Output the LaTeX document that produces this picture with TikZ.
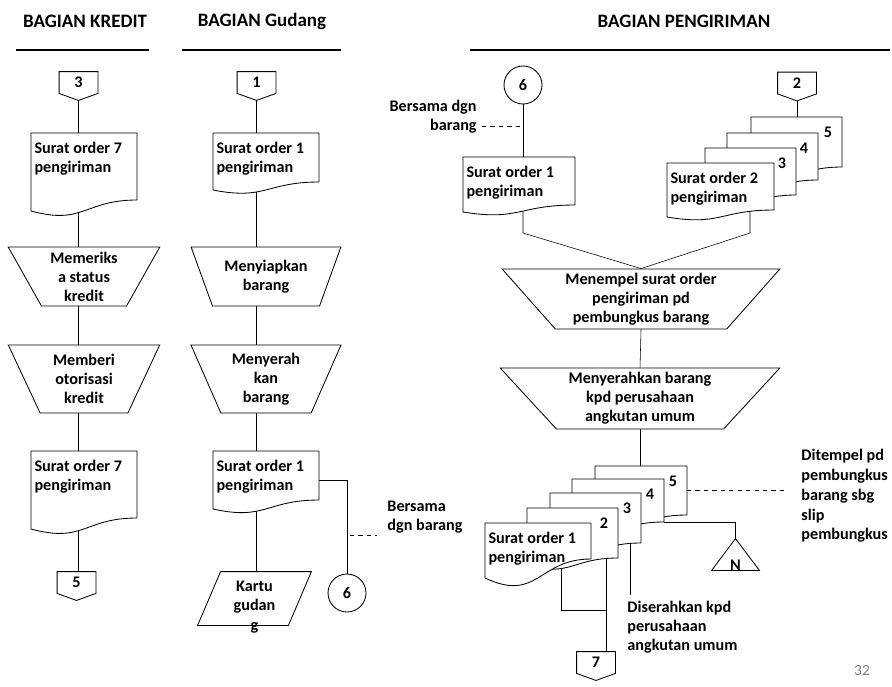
\documentclass[tikz,border=0pt]{standalone}
\usepackage{fontspec}
\setmainfont{Carlito}
\usetikzlibrary{shapes.geometric,calc,backgrounds}

\newlength{\pxu}\setlength{\pxu}{0.025cm}
% text block at the top of a document symbol
\newcommand{\doctxt}[3]{\parbox[t][#2\pxu][t]{#1\pxu}{\vspace*{5pt}\raggedright\leftskip=2.5pt\strut#3}}
% document symbol: name, x, y, width, body height, drop, text
\newcommand{\docu}[7]{%
  \filldraw[fill=white] (#2,#3) -- ++(#4,0) -- ++(0,#5)
    .. controls +(-#4/2,0) and +(#4/2,1.31*#6) .. ++(-#4,#6) -- cycle;
  \node[docbox] (#1) at (#2,#3) {\doctxt{#4}{#5}{#7}};}
% off-page connector
\newcommand{\offp}[3]{%
  \node[offbox] (#1) at (#2) {#3};
  \draw (#1.north west) -- (#1.north east) -- (#1.south east)
    -- ($(#1.south)+(0,7)$) coordinate (#1-tip) -- (#1.south west) -- cycle;}

\tikzset{
  every node/.style={font=\bfseries\fontsize{11.5}{13.5}\selectfont},
  head/.style={font=\bfseries\fontsize{13.5}{16}\selectfont},
  rule/.style={line width=1.3pt},
  offbox/.style={minimum width=38\pxu, minimum height=21\pxu, inner sep=0pt},
  docbox/.style={inner sep=0pt, outer sep=0pt, anchor=north west},
  proc/.style={draw, fill=white, trapezium, shape border rotate=180,
    trapezium stretches=true, align=center, inner sep=0pt},
  kartubox/.style={minimum width=90\pxu, minimum height=53\pxu, inner sep=0pt},
  tribox/.style={minimum width=47\pxu, minimum height=31\pxu, inner sep=0pt},
  conn/.style={draw, fill=white, circle, minimum size=38\pxu, inner sep=0pt},
  note/.style={align=left, inner sep=0pt}
}

\begin{document}
\begin{tikzpicture}[x=0.025cm, y=-0.025cm, line width=0.6pt]
\useasboundingbox (0,0) rectangle (892,686);

% headers
\node[head] (hk) at (85,21) {BAGIAN KREDIT};
\node[head] (hg) at (262,21) {BAGIAN Gudang};
\node[head] (hp) at (684,21) {BAGIAN PENGIRIMAN};
\draw[rule] (16,50) -- (149,50);
\draw[rule] (182,50) -- (341,50);
\draw[rule] (470,50) -- (890,50);

% bagian kredit
\offp{c3}{78.5,82.5}{3}
\docu{ka}{31}{133}{106}{67}{11}{Surat order 7\\pengiriman}
\node[proc, trapezium left angle=62, trapezium right angle=62,
  minimum width=152\pxu, minimum height=59\pxu] (kb) at (84,276.5) {Memeriks\\a status\\kredit};
\node[proc, trapezium left angle=65.5, trapezium right angle=65.5,
  minimum width=152\pxu, minimum height=68\pxu] (kc) at (84,379) {Memberi\\otorisasi\\kredit};
\docu{kd}{31}{451}{106}{67}{11}{Surat order 7\\pengiriman}
\offp{c5}{76.5,582.5}{5}

% bagian gudang
\offp{c1}{256.5,82.5}{1}
\docu{ga}{213}{133}{106}{49}{8}{Surat order 1\\pengiriman}
\node[proc, trapezium left angle=63.4, trapezium right angle=63.4,
  minimum width=151\pxu, minimum height=59\pxu] (gb) at (266,276.5) {Menyiapkan\\barang};
\node[proc, trapezium left angle=66.5, trapezium right angle=66.5,
  minimum width=151\pxu, minimum height=68\pxu] (gc) at (266,379) {Menyerah\\kan\\barang};
\docu{gd}{213}{451}{106}{49}{9}{Surat order 1\\pengiriman}
\node[kartubox] (kg) at (254.5,598.5)
  {\raisebox{-9pt}[0pt][0pt]{\renewcommand{\arraystretch}{1.05}%
   \begin{tabular}{@{}c@{}}Kartu\\gudan\\g\end{tabular}}};
\draw ($(kg.north west)+(11.5,0)$) -- ($(kg.north east)+(11.5,0)$)
  -- ($(kg.south east)+(-11.5,0)$) -- ($(kg.south west)+(-11.5,0)$) -- cycle;
\node[conn] (c6a) at (347,593) {6};
\node[note, anchor=west] (ann1) at (387,517) {Bersama\\dgn barang};

% bagian pengiriman
\node[conn] (p6) at (523,85) {6};
\node[note, align=right, anchor=east] (ann2) at (477,116.5) {Bersama dgn\\barang};
\docu{pa}{463}{157}{112}{48}{7}{Surat order 1\\pengiriman}
\offp{c2}{797,83}{2}
\docu{t5}{751}{117}{91}{50}{8}{\raggedleft 5\hspace*{7pt}}
\docu{t4}{727}{133}{91}{47}{8}{\raggedleft 4\hspace*{7pt}}
\docu{t3}{705}{148}{91}{47}{8}{\raggedleft 3\hspace*{7pt}}
\docu{t1}{667}{163}{107}{47}{7}{Surat order 2\\pengiriman}
\node[proc, trapezium left angle=48, trapezium right angle=48,
  minimum width=278\pxu, minimum height=60\pxu] (pm1) at (641,299)
  {Menempel surat order\\pengiriman pd\\pembungkus barang};
\node[proc, trapezium left angle=47.4, trapezium right angle=47.4,
  minimum width=280\pxu, minimum height=61\pxu] (pm2) at (640,398.5)
  {Menyerahkan barang\\kpd perusahaan\\angkutan umum};
\docu{b5}{595}{466}{92}{49}{8}{\raggedleft 5\hspace*{7pt}}
\docu{b4}{572}{479}{92}{43}{8}{\raggedleft 4\hspace*{7pt}}
\docu{b3}{550}{493}{91}{50}{8}{\raggedleft 3\hspace*{7pt}}
\docu{b2}{527}{508}{91}{50}{8}{\raggedleft 2\hspace*{7pt}}
\docu{b1}{485}{523}{106}{36}{19}{Surat order 1\\pengiriman}
\node[tribox] (tN) at (735.5,554.5) {\raisebox{-11.5pt}[0pt][0pt]{N}};
\draw (tN.north) -- (tN.south east) -- (tN.south west) -- cycle;
\node[note, anchor=west, font=\bfseries\fontsize{11.5}{14}\selectfont] (ann3) at (801,496)
  {Ditempel pd\\pembungkus\\barang sbg\\slip\\pembungkus};
\node[note, anchor=north west] (ann4) at (627,601) {Diserahkan kpd\\perusahaan\\angkutan umum};
\offp{c7}{596,662.5}{7}
\node[font=\fontsize{11}{13}\selectfont, text=gray] (pg) at (862,671) {32};

\coordinate (ja) at (523,233);
\coordinate (jb) at (750,233);
\coordinate (d1) at (350,535);
\coordinate (d2) at (482,126);
\coordinate (d3) at (630,595);
\coordinate (j7) at (606,610);

% connectors
\begin{scope}[on background layer]
\draw (c3-tip) -- (c3-tip |- ka.north);
\draw (c3-tip |- ka.south) -- (c3-tip |- kb.north);
\draw (c3-tip |- kb.south) -- (c3-tip |- kc.north);
\draw (c3-tip |- kc.south) -- (c3-tip |- kd.north);
\draw (c3-tip |- kd.south) -- (c3-tip |- c5.north);
\draw (c1-tip) -- (c1-tip |- ga.north);
\draw (c1-tip |- ga.south) -- (c1-tip |- gb.north);
\draw (c1-tip |- gb.south) -- (c1-tip |- gc.north);
\draw (c1-tip |- gc.south) -- (c1-tip |- gd.north);
\draw (c1-tip |- gd.south) -- (c1-tip |- kg.north);
\draw ($(gd.east)+(0,5)$) -| (c6a.north);
\draw[dashed] (d1) -- ++(27,0);
\draw (p6) -- (p6 |- pa.north);
\draw[dashed] (d2) -- (d2 -| p6);
\draw (p6 |- pa.south) -- (ja) -- (pm1.north);
\draw (c2-tip) -- (c2-tip |- t5.north);
\draw (jb |- t1.south) -- (jb) -- (pm1.north);
\draw (pm1.south) -- (pm2.north);
\draw (pm2.south) -- (pm2.south |- b5.north);
\draw[dashed] (b5.east) -- ++(100,0);
\draw (b4.south east) -| (tN.north);
\draw (d3 |- b3.south) -- (d3);
\draw ($(b1.south west)+(76,0)$) |- (j7);
\draw (j7 |- b2.south) -- (j7 |- c7.north);
\end{scope}
\end{tikzpicture}
\end{document}
